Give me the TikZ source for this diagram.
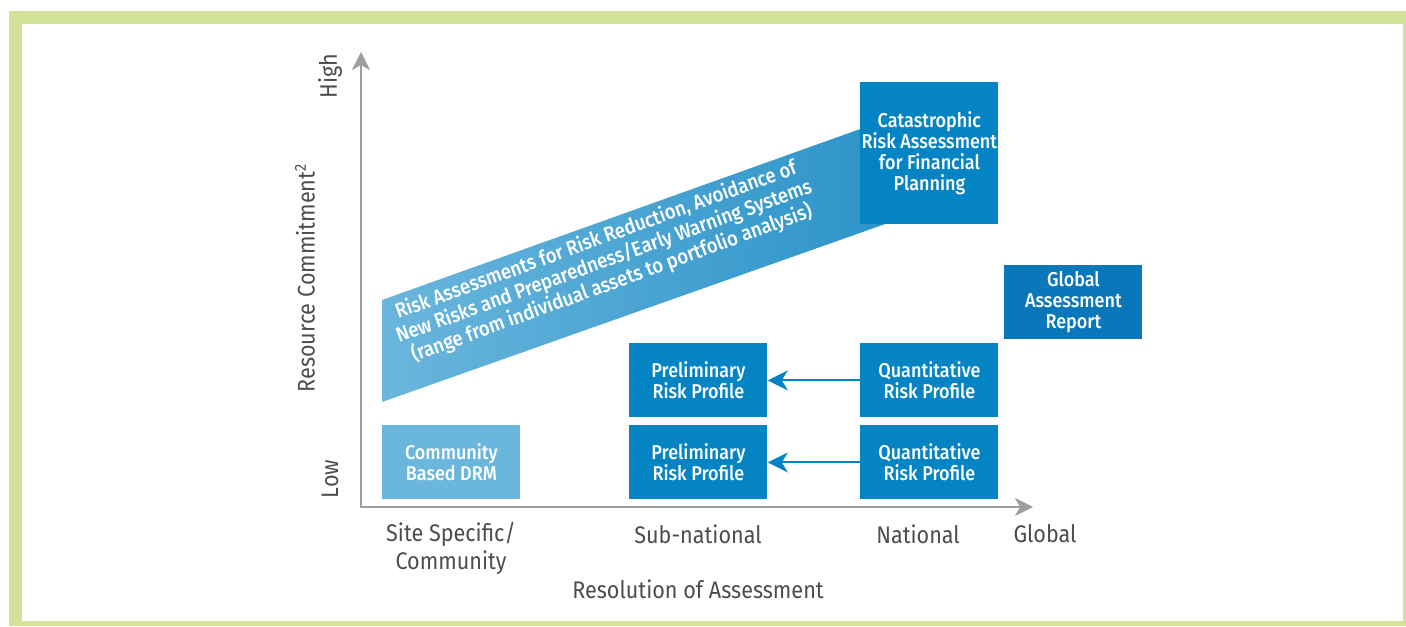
\documentclass[tikz,border=0pt]{standalone}
\usepackage{fontspec}
\setmainfont{Fira Sans}[BoldFont={Fira Sans Medium}, FakeStretch=0.9]
\usetikzlibrary{arrows.meta}
\definecolor{frameGreen}{HTML}{D3E29B}
\definecolor{axisGray}{HTML}{9E9E9E}
\definecolor{labelGray}{HTML}{4D4D4F}
\definecolor{boxBlue}{HTML}{0584C4}
\definecolor{globalBlue}{HTML}{0A77BA}
\definecolor{lightBlue}{HTML}{6AB6DD}
\definecolor{bandRight}{HTML}{2A92C8}

\begin{document}
\begin{tikzpicture}[x=0.5pt,y=-0.5pt]
    \tikzset{box/.style={fill=boxBlue, text=white, font=\bfseries\fontsize{10}{10.5}\selectfont, align=center, inner sep=0pt, minimum width=69pt, minimum height=37pt, anchor=north west}}
    \tikzset{axislabel/.style={text=labelGray, font=\fontsize{12}{14}\selectfont, align=center}}
    \useasboundingbox (0,0) rectangle (1406,626);

    % frame
    \fill[frameGreen] (9,11) rectangle (1406,626);
    \fill[white] (22,24) rectangle (1403,621);

    % axes
    \coordinate (origin) at (361,507);
    \coordinate (yTip) at (361,52);
    \coordinate (xTip) at (1033,507);
    \draw[axisGray, line width=1pt, {Stealth[length=9pt,width=9pt,inset=2.5pt]}-{Stealth[length=9pt,width=9pt,inset=2.5pt]}] (yTip) -- (origin) -- (xTip);

    % band
    \shade[left color=lightBlue, right color=bandRight] (382,300) -- (382,402) -- (905,217) -- (905,113) -- cycle;
    \node[rotate=20, text=white, font=\bfseries\fontsize{10.3}{11.5}\selectfont, align=center] (band) at (604,262) {Risk Assessments for Risk Reduction, Avoidance of\\New Risks and Preparedness/Early Warning Systems\\(range from individual assets to portfolio analysis)};

    % boxes
    \node[box, fill=lightBlue] (cbdrm) at (382,425) {Community\\Based DRM};
    \node[box] (prelim_1) at (629,343) {Preliminary\\Risk Profile};
    \node[box] (prelim_2) at (629,425) {Preliminary\\Risk Profile};
    \node[box] (quant_1) at (860,343) {Quantitative\\Risk Profile};
    \node[box] (quant_2) at (860,425) {Quantitative\\Risk Profile};
    \node[box, minimum height=71pt] (cat) at (860,82) {Catastrophic\\Risk Assessment\\for Financial\\Planning};
    \node[box, fill=globalBlue] (gar) at (1004,265) {Global\\Assessment\\Report};

    \path[-{Stealth[length=10pt,width=10pt,inset=3pt]}, boxBlue, line width=1pt] (quant_1) edge (prelim_1);
    \path[-{Stealth[length=10pt,width=10pt,inset=3pt]}, boxBlue, line width=1pt] (quant_2) edge (prelim_2);

    % labels
    \node[axislabel, rotate=90] (high) at (330,76) {High};
    \node[axislabel, rotate=90] (low) at (330,479) {Low};
    \node[axislabel, rotate=90] (resource) at (305,278) {Resource Commitment\textsuperscript{2}};
    \node[axislabel] (site) at (451,548) {Site Specific/\\Community};
    \node[axislabel] (subnat) at (698,534) {Sub-national};
    \node[axislabel] (national) at (918,534) {National};
    \node[axislabel] (global) at (1045,534) {Global};
    \node[axislabel] (resolution) at (698,589) {Resolution of Assessment};
\end{tikzpicture}
\end{document}
